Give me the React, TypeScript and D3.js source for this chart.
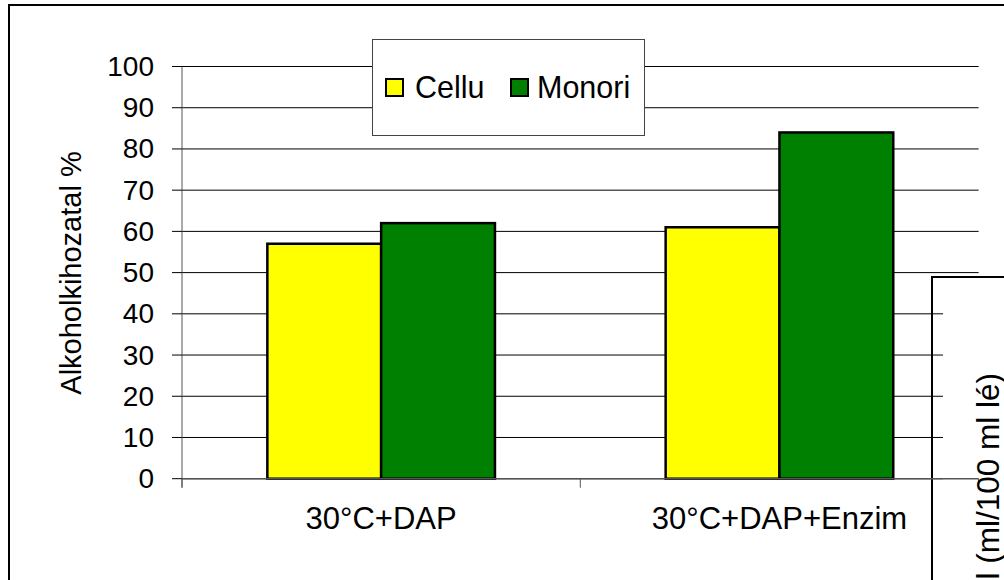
import React from "react";
import * as d3 from "d3";

const categories = ["30°C+DAP", "30°C+DAP+Enzim"];
const seriesNames = ["Cellu", "Monori"];
const celluValues = [57, 61];
const monoriValues = [62, 84];
const yTicks = [0, 10, 20, 30, 40, 50, 60, 70, 80, 90, 100];
const seriesColors = ["#FFFF00", "#008000"];
const yTitle = "Alkoholkihozatal %";
const insetTitle = "Alkohol (ml/100 ml lé)";

const FONT = "Arial, 'Liberation Sans', sans-serif";

export default function App() {
  const W = 1004;
  const H = 580;
  const left = 182;
  const right = 978.6;
  const y0 = 478.7;
  const y100 = 66.5;

  const x = d3.scaleBand<string>().domain(categories).range([left, right]).padding(0);
  const y = d3.scaleLinear().domain([0, 100]).range([y0, y100]);
  const bw = x.bandwidth();
  const barW = bw / 3.5;
  const values = [celluValues, monoriValues];

  const insetX = 943;
  const insetTop = 280;

  return (
    <svg width={W} height={H} style={{ position: "absolute", left: 0, top: 0 }}>
      <rect x={0} y={0} width={W} height={H} fill="#fff" />
      {/* outer chart border */}
      <rect x={9} y={5} width={W + 20} height={H + 20} fill="none" stroke="#000" strokeWidth={2} />

      {/* inset chart border */}
      <rect x={932} y={277} width={200} height={400} fill="#fff" stroke="#000" strokeWidth={2} />

      {/* gridlines */}
      {yTicks.map((t) => (
        <line key={"g" + t} x1={left} x2={right} y1={y(t)} y2={y(t)} stroke="#000" strokeWidth={1} />
      ))}

      {/* inset white area covering gridlines */}
      <rect x={insetX} y={insetTop} width={W - insetX} height={H - insetTop} fill="#fff" />

      {/* y axis */}
      <line x1={left} x2={left} y1={y100} y2={y0 + 9} stroke="#555" strokeWidth={1} />
      {yTicks.map((t) => (
        <line key={"t" + t} x1={left - 10} x2={left} y1={y(t)} y2={y(t)} stroke="#000" strokeWidth={1} />
      ))}
      {yTicks.map((t) => (
        <text
          key={"l" + t}
          x={154}
          y={y(t)}
          textAnchor="end"
          dominantBaseline="central"
          fontFamily={FONT}
          fontSize={28}
          fill="#000"
        >
          {t}
        </text>
      ))}

      {/* x axis tick */}
      {[left, left + bw, right].map((xx, i) => (
        <line key={"xt" + i} x1={xx} x2={xx} y1={y0} y2={y0 + 9} stroke="#555" strokeWidth={1} />
      ))}

      {/* bars */}
      {categories.map((c, ci) => {
        const cx = (x(c) as number) + bw / 2;
        const sub = d3.scaleBand<string>().domain(seriesNames).range([cx - barW, cx + barW]).padding(0);
        return (
          <g key={c}>
            {seriesNames.map((s, si) => (
              <rect
                key={s}
                x={sub(s) as number}
                y={y(values[si][ci])}
                width={sub.bandwidth()}
                height={y0 - y(values[si][ci])}
                fill={seriesColors[si]}
                stroke="#000"
                strokeWidth={2.5}
              />
            ))}
          </g>
        );
      })}

      {/* x axis line */}
      <line x1={left} x2={right} y1={y0} y2={y0} stroke="#555" strokeWidth={1.5} />

      {/* category labels */}
      {categories.map((c) => (
        <text
          key={"c" + c}
          x={(x(c) as number) + bw / 2}
          y={529}
          textAnchor="middle"
          fontFamily={FONT}
          fontSize={31}
          fill="#000"
        >
          {c}
        </text>
      ))}

      {/* y title */}
      <text
        transform={`translate(71,273) rotate(-90)`}
        textAnchor="middle"
        dominantBaseline="central"
        fontFamily={FONT}
        fontSize={29}
        fill="#000"
      >
        {yTitle}
      </text>

      {/* legend */}
      <rect x={372.5} y={39.5} width={272} height={96} fill="#fff" stroke="#444" strokeWidth={1} />
      {seriesNames.map((s, i) => {
        const sx = [386, 511][i];
        const tx = [415, 537][i];
        return (
          <g key={"lg" + s}>
            <rect x={sx} y={79} width={17} height={17} fill={seriesColors[i]} stroke="#000" strokeWidth={2} />
            <text x={tx} y={98} fontFamily={FONT} fontSize={30.5} fill="#000">
              {s}
            </text>
          </g>
        );
      })}

      {/* inset title (mostly cut off, as in the source) */}
      <text
        transform={`translate(999,373) rotate(-90)`}
        textAnchor="end"
        fontFamily={FONT}
        fontSize={31.5}
        fill="#000"
      >
        {insetTitle}
      </text>
    </svg>
  );
}
